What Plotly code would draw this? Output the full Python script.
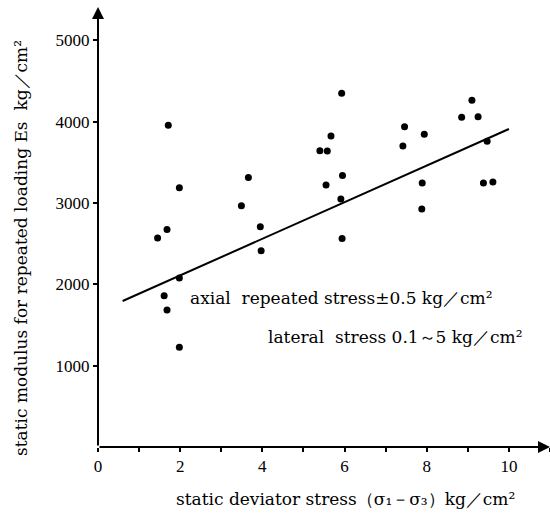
import plotly.graph_objects as go

# Data points
stress_x = [1.71, 1.98, 1.45, 1.68, 1.98, 1.61, 1.68, 1.98,
            3.66, 3.49, 3.95, 3.97,
            5.93, 5.67, 5.40, 5.58, 5.95, 5.55, 5.91, 5.94,
            7.46, 7.42, 7.94, 7.89, 7.88,
            9.10, 8.85, 9.25, 9.47, 9.38, 9.61]
modulus_y = [3955, 3188, 2569, 2675, 2077, 1860, 1683, 1228,
             3315, 2967, 2708, 2413,
             4348, 3823, 3643, 3638, 3339, 3220, 3048, 2565,
             3938, 3700, 3844, 3245, 2925,
             4262, 4053, 4061, 3758, 3245, 3257]

fit_x = [0.6, 10.0]
fit_y = [1795, 3910]

x_tickvals = [0, 2, 4, 6, 8, 10]
y_tickvals = [1000, 2000, 3000, 4000, 5000]

FONT = "Liberation Serif"
TFONT = "DejaVu Serif"

fig = go.Figure()
fig.add_trace(go.Scatter(x=stress_x, y=modulus_y, mode="markers",
                         marker=dict(color="black", size=7), showlegend=False))
fig.add_trace(go.Scatter(x=fit_x, y=fit_y, mode="lines",
                         line=dict(color="black", width=2), showlegend=False))

XMAX, YMAX = 11.0, 5410

fig.update_layout(
    width=550, height=520,
    margin=dict(l=98, r=0, t=7, b=73),
    paper_bgcolor="white", plot_bgcolor="white",
    font=dict(family=FONT, color="black", size=17),
    xaxis=dict(range=[0, XMAX], showgrid=False, zeroline=False, showline=False,
               tickvals=x_tickvals, ticks="outside", ticklen=4, tickwidth=1.5,
               tickcolor="black",
               minor=dict(dtick=1, ticks="outside", ticklen=4, tickcolor="black"),
               tickfont=dict(size=17, family=FONT)),
    yaxis=dict(range=[0, YMAX], showgrid=False, zeroline=False, showline=False,
               tickvals=y_tickvals, ticks="outside", ticklen=4, tickwidth=1.5,
               tickcolor="black", tickfont=dict(size=17, family=FONT)),
)

# axis lines with arrows
fig.add_annotation(x=XMAX, y=0, ax=0, ay=0, xref="x", yref="y", axref="x", ayref="y",
                   showarrow=True, arrowhead=2, arrowsize=1.2, arrowwidth=2, arrowcolor="black", text="")
fig.add_annotation(x=0, y=YMAX, ax=0, ay=0, xref="x", yref="y", axref="x", ayref="y",
                   showarrow=True, arrowhead=2, arrowsize=1.2, arrowwidth=2, arrowcolor="black", text="")

fig.add_annotation(x=2.2, y=1827, xref="x", yref="y", xanchor="left", yanchor="middle",
                   text="axial\u00a0 repeated stress\u00b10.5\u00a0kg\uff0fcm\u00b2", showarrow=False,
                   font=dict(size=17, family=TFONT))
fig.add_annotation(x=4.1, y=1347, xref="x", yref="y", xanchor="left", yanchor="middle",
                   text="lateral\u00a0 stress 0.1\uff5e5\u00a0kg\uff0fcm\u00b2", showarrow=False,
                   font=dict(size=17, family=TFONT))

# axis titles (positions in pixels, converted below)
fig.add_annotation(x=345, y=520 - 511, xref="paper", yref="paper", showarrow=False,
                   text="static deviator stress\uff08\u03c3\u2081\uff0d\u03c3\u2083\uff09kg\uff0fcm\u00b2",
                   font=dict(size=17, family=TFONT))
fig.add_annotation(x=9, y=520 - 248, xref="paper", yref="paper", showarrow=False, textangle=-90,
                   text="static modulus for repeated loading Es\u00a0 kg\uff0fcm\u00b2",
                   font=dict(size=17, family=TFONT))

W, H = 550, 520
l, r, t, b = 98, 0, 7, 73
pw, ph = W - l - r, H - t - b
anns = list(fig.layout.annotations)
for a in anns[-2:]:
    a.x = (a.x - l) / pw
    a.y = (a.y - b) / ph
fig.layout.annotations = anns

fig.write_html("out.html")
